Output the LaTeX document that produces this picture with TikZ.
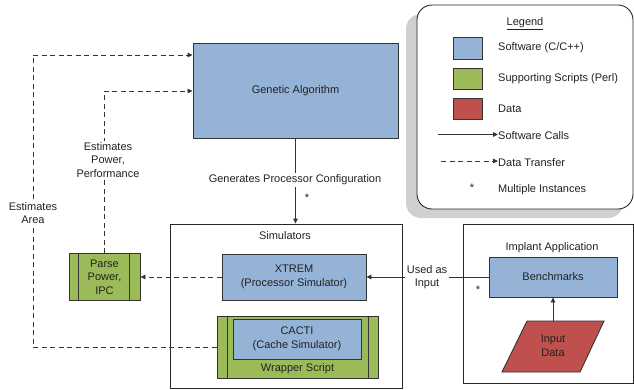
\documentclass[tikz,border=0pt]{standalone}
\usepackage{fontspec}
\setmainfont{Liberation Sans}
\usetikzlibrary{arrows.meta,calc}

\definecolor{swblue}{HTML}{95B3D7}
\definecolor{scgreen}{HTML}{9BBB59}
\definecolor{datared}{HTML}{C0504D}
\definecolor{edge}{HTML}{333333}
\definecolor{txt}{HTML}{222222}
\definecolor{shadowgrey}{HTML}{D0D0D0}

\tikzset{
  base/.style={inner sep=0pt, text=txt, font=\fontsize{11}{13.5}\selectfont, align=center},
  swbox/.style={base, draw=edge, line width=0.9pt, fill=swblue},
  scbox/.style={base, draw=edge, line width=0.9pt, fill=scgreen},
  frame/.style={draw=black!85, line width=0.9pt},
  lbl/.style={base, fill=white, inner sep=1.5pt},
  plain/.style={base},
  call/.style={draw=edge, line width=0.8pt, -{Triangle[length=5pt,width=4.5pt]}},
  xfer/.style={draw=edge, line width=0.8pt, dash pattern=on 5pt off 3.5pt, -{Triangle[length=5pt,width=4.5pt]}},
}

\begin{document}
\begin{tikzpicture}[x=1pt,y=-1pt]
\useasboundingbox (0,0) rectangle (634,389);

% legend panel with its shadow
\fill[shadowgrey, rounded corners=15pt] (406,14) rectangle (623,218);
\draw[frame, fill=white, rounded corners=15pt] (417,5) rectangle (633,209);
\node[plain] (legtitle) at (525,24) {\underline{Legend}};
\node[swbox, minimum width=29pt, minimum height=22pt] (legsw) at (467.5,48) {};
\node[scbox, minimum width=29pt, minimum height=21pt] (legsc) at (467.5,78.5) {};
\node[base, draw=edge, line width=0.9pt, fill=datared, minimum width=29pt, minimum height=21pt] (legdata) at (467.5,108.5) {};
\node[plain, anchor=west] (legswt) at (498,48) {Software (C/C++)};
\node[plain, anchor=west] (legsct) at (498,78.5) {Supporting Scripts (Perl)};
\node[plain, anchor=west] (legdatat) at (498,108.5) {Data};
\node[plain, anchor=west] (legcallt) at (498,135.5) {Software Calls};
\node[plain, anchor=west] (legxfert) at (498,163) {Data Transfer};
\node[plain, anchor=west] (legmultt) at (498,190) {Multiple Instances};
\node[plain] (legstar) at (472,188) {*};
\coordinate (legcalls) at (438,134.5);
\coordinate (legxfers) at (441,161);
\draw[call] (legcalls) -- (legcallt.west |- legcalls);
\draw[xfer] (legxfers) -- (legxfert.west |- legxfers);

% genetic algorithm
\node[swbox, minimum width=205pt, minimum height=95pt] (ga) at (295.5,90.5) {Genetic Algorithm};

% simulators group
\node[frame, minimum width=232pt, minimum height=164pt, inner sep=0pt] (sim) at (286,306) {};
\node[plain] (simtitle) at (285,236) {Simulators};
\node[swbox, minimum width=144pt, minimum height=46pt] (xtrem) at (294,277) {XTREM\\(Processor Simulator)};
\node[scbox, minimum width=161pt, minimum height=62pt] (wrap) at (297.5,347) {};
\draw[edge, line width=0.9pt] ($(wrap.north west)+(11,0)$) -- ($(wrap.south west)+(11,0)$);
\draw[edge, line width=0.9pt] ($(wrap.north east)+(-10,0)$) -- ($(wrap.south east)+(-10,0)$);
\node[swbox, minimum width=128pt, minimum height=40pt] (cacti) at (297,339) {CACTI\\(Cache Simulator)};
\node[plain] (wraptitle) at (297.5,369) {Wrapper Script};

% parsing script
\node[scbox, minimum width=71pt, minimum height=47pt] (parse) at (104.5,277) {Parse\\Power,\\IPC};
\draw[edge, line width=0.9pt] ($(parse.north west)+(10,0)$) -- ($(parse.south west)+(10,0)$);
\draw[edge, line width=0.9pt] ($(parse.north east)+(-11,0)$) -- ($(parse.south east)+(-11,0)$);

% implant application group
\node[frame, minimum width=170pt, minimum height=159pt, inner sep=0pt] (implant) at (548,303.5) {};
\node[plain] (imptitle) at (552,248) {Implant Application};
\node[swbox, minimum width=128pt, minimum height=40pt] (bench) at (553,277) {Benchmarks};
\fill[datared, draw=edge, line width=0.9pt] (527,321) -- (604,321) -- (580,372) -- (502,372) -- cycle;
\node[plain] (indata) at (553,346) {Input\\Data};
\coordinate (indtop) at (553,321);
\draw[call] (indtop) -- (bench.south);

% connectors
\draw[call] (ga.south) -- (ga.south |- sim.north);
\node[lbl] (genlbl) at (295,180) {Generates Processor Configuration};
\node[plain] (genstar) at (307,198) {*};

\draw[call] (bench.west) -- (xtrem.east);
\node[lbl] (uselbl) at (427,277) {Used as\\Input};
\node[plain] (usestar) at (478,290) {*};

\draw[xfer] (xtrem.west) -- (parse.east);

\coordinate (pcorner) at (104.5,91);
\draw[xfer] (parse.north) -- (pcorner) -- (pcorner -| ga.west);
\node[lbl] (perflbl) at (108,160) {Estimates\\Power,\\Performance};

\coordinate (acorner) at (33,55);
\draw[xfer] (wrap.west) -| (acorner) -- (acorner -| ga.west);
\node[lbl] (arealbl) at (33,213) {Estimates\\Area};
\end{tikzpicture}
\end{document}
